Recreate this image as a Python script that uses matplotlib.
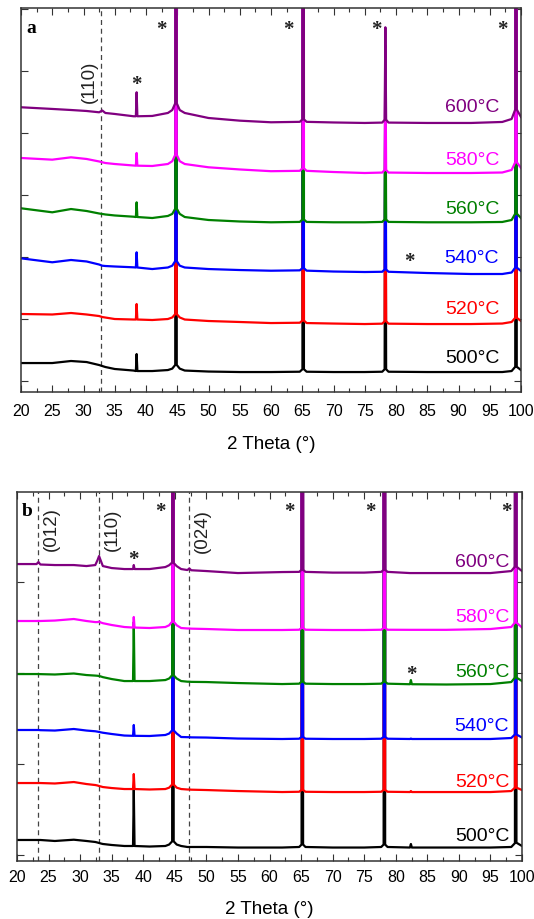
import matplotlib
matplotlib.use('Agg')
import matplotlib.pyplot as plt
from matplotlib.ticker import MultipleLocator, NullLocator

plt.rcParams['font.family'] = ['Liberation Sans', 'DejaVu Sans']

# Proben / Farben (unten -> oben)
temps = ['500°C', '520°C', '540°C', '560°C', '580°C', '600°C']
colors = ['black', '#ff0000', '#0000ff', '#008000', '#ff00ff', '#800080']

# Panel a: 2 Theta und gestapelte Intensitaeten
tt_a = [20, 25, 28, 30.5, 32.5, 33.0, 33.5, 35, 38.0, 38.38, 38.5, 38.62, 41, 43.5,
        44.2, 44.68, 44.8, 44.92, 45.4, 46.2, 50, 55, 60, 64.6, 65.03, 65.15, 65.27, 65.7,
        70, 75, 77.8, 78.18, 78.3, 78.42, 78.8, 85, 92, 97, 98.5, 99.08, 99.2, 99.32, 100]
a_500 = [290, 290, 323, 306, 258, 242, 226, 194, 169, 161, 435, 161, 161, 177, 200, 260,
         30000, 260, 200, 169, 153, 145, 145, 150, 190, 30000, 190, 150, 145, 145, 150, 190,
         5400, 190, 150, 145, 145, 145, 161, 230, 30000, 230, 177]
a_520 = [1081, 1073, 1097, 1073, 1048, 1032, 1024, 1000, 992, 992, 1242, 992, 984, 1000,
         1025, 1080, 30000, 1080, 1025, 992, 968, 952, 935, 940, 975, 30000, 975, 935, 927,
         919, 925, 965, 5400, 965, 925, 919, 919, 927, 952, 1020, 30000, 1020, 968]
a_540 = [1979, 1915, 1952, 1928, 1879, 1860, 1855, 1847, 1834, 1831, 2076, 1831, 1806, 1831,
         1860, 1935, 30000, 1935, 1860, 1831, 1806, 1790, 1779, 1785, 1820, 30000, 1820, 1780,
         1766, 1758, 1762, 1800, 5400, 1800, 1762, 1742, 1726, 1726, 1750, 1830, 30000, 1830,
         1774]
a_560 = [2786, 2721, 2774, 2742, 2702, 2694, 2686, 2670, 2650, 2645, 2882, 2645, 2629, 2662,
         2695, 2780, 30000, 2780, 2695, 2645, 2597, 2573, 2560, 2566, 2605, 30000, 2605, 2566,
         2560, 2560, 2566, 2605, 5400, 2605, 2566, 2560, 2560, 2565, 2597, 2700, 30000, 2700,
         2629]
a_580 = [3597, 3570, 3608, 3581, 3541, 3528, 3516, 3500, 3476, 3473, 3678, 3473, 3468, 3500,
         3545, 3650, 30000, 3650, 3545, 3500, 3447, 3412, 3384, 3390, 3430, 30000, 3430, 3390,
         3371, 3355, 3362, 3405, 5400, 3405, 3362, 3355, 3355, 3363, 3404, 3530, 30000, 3530,
         3436]
a_600 = [4415, 4388, 4371, 4355, 4334, 4363, 4323, 4307, 4270, 4270, 4657, 4270, 4275, 4323,
         4370, 4480, 30000, 4480, 4370, 4323, 4242, 4199, 4173, 4180, 4220, 30000, 4220, 4180,
         4170, 4162, 4168, 4215, 5705, 4215, 4168, 4162, 4162, 4178, 4226, 4380, 30000, 4380,
         4258]

# Panel b
tt_b = [20, 23.1, 23.4, 23.7, 26, 29, 31, 32.4, 32.75, 33.0, 33.3, 33.6, 35, 37, 38.38,
        38.5, 38.62, 41, 43.5, 44.1, 44.58, 44.7, 44.82, 45.3, 46.0, 47.0, 47.3, 47.6, 50,
        55, 62, 64.7, 65.08, 65.2, 65.32, 65.7, 70, 75, 77.7, 78.08, 78.2, 78.32, 78.7,
        82.25, 82.4, 82.55, 88, 95, 98.3, 98.88, 99.0, 99.12, 100]
b_500 = [165, 165, 165, 165, 154, 168, 154, 143, 137, 132, 126, 121, 110, 99, 99, 720, 99,
         93, 99, 115, 150, 20000, 150, 115, 99, 88, 88, 88, 88, 82, 82, 88, 115, 20000, 115,
         88, 82, 82, 88, 115, 20000, 115, 88, 82, 121, 82, 82, 82, 88, 130, 20000, 135, 99]
b_520 = [791, 791, 791, 791, 786, 802, 780, 769, 764, 758, 753, 747, 736, 725, 725, 890, 725,
         720, 725, 740, 775, 20000, 775, 740, 725, 720, 720, 718, 714, 703, 692, 695, 715,
         20000, 715, 695, 692, 692, 695, 715, 20000, 715, 695, 692, 703, 692, 692, 692, 703,
         740, 20000, 740, 714]
b_540 = [1374, 1374, 1374, 1372, 1368, 1385, 1368, 1360, 1356, 1352, 1348, 1344, 1330, 1313,
         1310, 1429, 1310, 1308, 1319, 1335, 1370, 20000, 1370, 1335, 1297, 1295, 1295, 1293,
         1291, 1280, 1275, 1278, 1298, 20000, 1298, 1278, 1275, 1275, 1278, 1298, 20000, 1298,
         1278, 1275, 1280, 1275, 1275, 1275, 1286, 1325, 20000, 1325, 1291]
b_560 = [1989, 1989, 1989, 1988, 1984, 1995, 1978, 1972, 1970, 1967, 1962, 1955, 1934, 1912,
         1912, 2560, 1912, 1912, 1923, 1940, 1975, 20000, 1975, 1940, 1912, 1905, 1905, 1903,
         1901, 1890, 1879, 1883, 1905, 20000, 1905, 1883, 1879, 1879, 1883, 1905, 20000, 1905,
         1883, 1877, 1923, 1877, 1874, 1879, 1901, 1950, 20000, 1950, 1912]
b_580 = [2572, 2572, 2573, 2572, 2577, 2594, 2572, 2560, 2560, 2565, 2555, 2548, 2528, 2506,
         2500, 2616, 2500, 2495, 2506, 2525, 2565, 20000, 2565, 2525, 2495, 2490, 2490, 2488,
         2484, 2473, 2473, 2476, 2495, 20000, 2495, 2476, 2473, 2473, 2476, 2495, 20000, 2495,
         2476, 2475, 2475, 2475, 2475, 2484, 2506, 2555, 20000, 2555, 2500]
b_600 = [3198, 3198, 3220, 3193, 3187, 3187, 3176, 3187, 3240, 3286, 3230, 3176, 3154, 3143,
         3143, 3187, 3143, 3143, 3165, 3185, 3215, 20000, 3210, 3175, 3143, 3132, 3150, 3130,
         3121, 3099, 3110, 3112, 3135, 20000, 3135, 3112, 3104, 3104, 3112, 3135, 20000, 3135,
         3112, 3099, 3099, 3099, 3099, 3099, 3121, 3170, 20000, 3170, 3121]

# Markierungen
refl_a = [32.8]
refl_names_a = ['(110)']
refl_b = [23.4, 33.0, 47.3]
refl_names_b = ['(012)', '(110)', '(024)']
stars_a_x = [38.5, 42.5, 62.7, 76.8, 97.1, 82.2]
stars_a_y = [4790, 5680, 5680, 5680, 5680, 1935]
stars_b_x = [38.4, 42.7, 63.1, 76.0, 97.5, 82.4]
stars_b_y = [3253, 3781, 3781, 3781, 3781, 1989]


def zeichne_panel(ax, tt, kurven, ylim, label_x, label_y, refl, refl_names, refl_text_x,
                  refl_text_y, stars_x, stars_y, buchstabe, tick_pad):
    for ref in refl:
        ax.axvline(ref, color='#444444', lw=0.9, ls=(0, (4, 3)), zorder=1)
    for name, x, y in zip(refl_names, refl_text_x, refl_text_y):
        ax.text(x, y, name, rotation=90, ha='center', va='center', fontsize=13.5, color='#222222')

    for kurve, farbe, temp, ly in zip(kurven, colors, temps, label_y):
        ax.plot(tt, kurve, color=farbe, lw=1.6, zorder=2)
        ax.text(label_x, ly, temp, color=farbe, ha='right', va='center', fontsize=14)

    for x, y in zip(stars_x, stars_y):
        ax.text(x, y, '*', ha='center', va='center', fontsize=15, fontweight='bold',
                family='Liberation Serif', color='#222222')

    ax.text(0.01, 0.937, buchstabe, transform=ax.transAxes, fontsize=14, fontweight='bold',
            family='Liberation Serif', va='baseline', ha='left')

    ax.set_xlim(20, 100)
    ax.set_ylim(*ylim)
    ax.xaxis.set_major_locator(MultipleLocator(5))
    ax.xaxis.set_minor_locator(MultipleLocator(2.5))
    ax.yaxis.set_major_locator(MultipleLocator(1000))
    ax.yaxis.set_minor_locator(NullLocator())
    ax.tick_params(which='both', direction='in', top=True, right=True, labelleft=False,
                   color='#333333')
    ax.tick_params(which='major', length=5, width=0.8, labelsize=11.5, pad=tick_pad)
    ax.tick_params(which='minor', length=3, width=0.8)
    for sp in ax.spines.values():
        sp.set_linewidth(1.1)
        sp.set_color('#333333')


fig = plt.figure(figsize=(5.34, 9.2), dpi=100)
ax_a = fig.add_axes([21 / 534, 527 / 920, 500 / 534, 384 / 920])
ax_b = fig.add_axes([17 / 534, 58 / 920, 505 / 534, 369 / 920])

zeichne_panel(ax_a, tt_a, [a_500, a_520, a_540, a_560, a_580, a_600], (-177, 6016),
              96.5, [387, 1177, 2000, 2790, 3565, 4420],
              refl_a, refl_names_a, [30.9], [4839], stars_a_x, stars_a_y, 'a', 8)
zeichne_panel(ax_b, tt_b, [b_500, b_520, b_540, b_560, b_580, b_600], (-66, 3990),
              97.97, [209, 813, 1418, 2022, 2627, 3231],
              refl_b, refl_names_b, [25.5, 35.05, 49.3], [3594, 3583, 3572],
              stars_b_x, stars_b_y, 'b', 5.5)

ax_a.set_xlabel('2 Theta (°)', fontsize=13.5, labelpad=12)
ax_b.set_xlabel('2 Theta (°)', fontsize=13.5, labelpad=12)

fig.savefig('out.png', dpi=100)
